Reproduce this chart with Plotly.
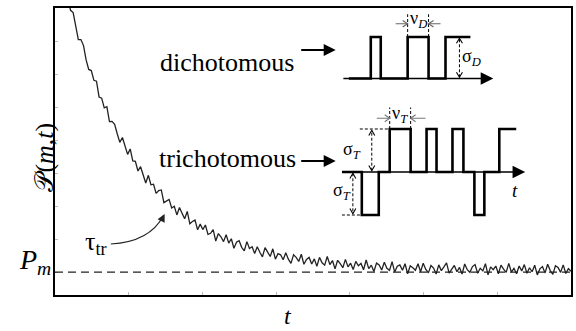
import numpy as np
import plotly.graph_objects as go

# ---------------- data ----------------
# noisy relaxation of P(m,t) towards P_m (main-axis units 0..100)
P_values = [
    123.5, 117.5, 114.9, 109.1, 109.1, 103.3, 99.2, 98.4, 94.1, 89.0,
    89.0, 86.9, 81.9, 78.6, 78.2, 74.8, 74.5, 69.0, 68.6, 65.2,
    65.6, 60.4, 60.5, 59.5, 56.2, 53.2, 54.9, 51.9, 49.0, 50.9,
    46.7, 46.6, 43.2, 44.7, 42.1, 39.0, 41.7, 38.4, 38.6, 35.4,
    36.4, 36.6, 32.2, 32.7, 33.3, 30.3, 30.9, 27.9, 30.5, 28.5,
    26.6, 29.1, 24.8, 25.6, 26.1, 22.7, 24.7, 22.8, 24.4, 21.1,
    21.5, 22.8, 18.8, 21.4, 20.3, 18.6, 21.0, 18.1, 19.6, 16.3,
    18.4, 18.9, 16.6, 15.4, 18.6, 16.2, 16.8, 14.5, 16.8, 14.9,
    13.3, 16.5, 14.7, 13.4, 16.1, 12.5, 14.4, 14.0, 12.3, 14.7,
    12.5, 11.0, 14.0, 13.1, 11.7, 14.2, 10.7, 12.4, 13.1, 10.8,
    12.6, 10.0, 13.1, 11.2, 10.4, 13.4, 10.6, 12.0, 9.1, 12.1,
    10.9, 9.5, 12.4, 9.8, 11.1, 8.9, 11.7, 10.2, 11.0, 8.8,
    12.2, 9.2, 10.4, 8.2, 11.1, 10.5, 8.7, 11.4, 9.3, 8.6,
    11.6, 8.0, 10.0, 10.5, 8.6, 10.9, 7.4, 10.2, 9.5, 8.6,
    10.9, 8.1, 11.1, 8.9, 7.7, 10.3, 9.4, 7.3, 10.5, 8.5,
    9.8, 11.2, 7.6, 9.0, 10.3, 8.1, 9.6, 7.3, 10.8, 8.8,
    7.9, 9.9, 10.6, 7.6, 9.3, 8.4, 10.9, 7.0, 9.8, 8.8,
    10.1, 7.4, 10.4, 9.0, 7.9, 11.0, 8.0, 9.3, 7.4, 10.1,
    8.4, 10.6, 7.6, 9.5, 8.1, 10.4, 7.0, 9.1, 9.9, 7.7,
    10.7, 8.5, 7.2, 10.2, 9.6, 7.9, 10.5, 7.5, 9.2, 8.3,
]
t_main = np.linspace(0, 100, len(P_values))
P_m = 8.0
x_tick_vals = [100 / 7 * k for k in range(1, 7)]
y_tick_vals = [P_m + 11.5 * k for k in range(8)]

# dichotomous noise: switching times and levels (0 / sigma_D = 1)
dich_t = [0.35, 1.45, 1.95, 3.3, 4.35, 5.2, 6.45]
dich_level = [0, 1, 0, 1, 0, 1, 1]
dich_nu = [3.3, 4.35]          # marked dwell interval
# trichotomous noise: switching times and levels (-1 / 0 / +1)
tri_t = [0, 1.0, 1.85, 2.4, 3.45, 4.25, 4.75, 5.55, 6.1, 6.65, 7.15, 7.9, 8.75]
tri_level = [0, -1, 0, 1, 0, 1, 0, 1, 0, -1, 0, 1, 1]
tri_nu = [2.4, 3.45]

SERIF = "Liberation Serif"

fig = go.Figure()
fig.add_trace(go.Scatter(x=t_main, y=P_values, mode="lines",
                         line=dict(color="#222222", width=1.3),
                         xaxis="x", yaxis="y", showlegend=False, hoverinfo="skip"))
fig.add_trace(go.Scatter(x=dich_t, y=dich_level, mode="lines",
                         line=dict(color="black", width=2.6, shape="hv"),
                         xaxis="x2", yaxis="y2", showlegend=False, cliponaxis=False))
fig.add_trace(go.Scatter(x=tri_t, y=tri_level, mode="lines",
                         line=dict(color="black", width=2.6, shape="hv"),
                         xaxis="x3", yaxis="y3", showlegend=False, cliponaxis=False))

shapes = []
annotations = []

# P_m dashed level
shapes.append(dict(type="line", xref="x", yref="y", x0=0, x1=100, y0=P_m, y1=P_m,
                   line=dict(color="#222", width=1.3, dash="8px,5px")))


def chevron(xr, yr, x, y, hw, depth, kind, color="black"):
    if kind == "up":
        p = f"M {x-hw},{y-depth} L {x},{y} L {x+hw},{y-depth}"
    elif kind == "down":
        p = f"M {x-hw},{y+depth} L {x},{y} L {x+hw},{y+depth}"
    elif kind == "right":
        p = f"M {x-depth},{y+hw} L {x},{y} L {x-depth},{y-hw}"
    else:
        p = f"M {x+depth},{y+hw} L {x},{y} L {x+depth},{y-hw}"
    return dict(type="path", xref=xr, yref=yr, path=p, line=dict(color=color, width=1.1))


def dline(xr, yr, x0, y0, x1, y1, color="black", dash="3px,2px", w=1):
    return dict(type="line", xref=xr, yref=yr, x0=x0, y0=y0, x1=x1, y1=y1,
                line=dict(color=color, width=w, dash=dash))


def axis_arrow(xr, yr, x_end):
    return dict(x=x_end, y=0, ax=0, ay=0, xref=xr, yref=yr, axref=xr, ayref=yr,
                showarrow=True, arrowhead=2, arrowsize=1.8, arrowwidth=1.4,
                arrowcolor="black", text="", standoff=0)


def font(size):
    return dict(family=SERIF, size=size, color="black")


# ---- dichotomous inset (x2/y2) ----
annotations.append(axis_arrow("x2", "y2", 7.6))
for xv in dich_nu:
    shapes.append(dline("x2", "y2", xv, 1, xv, 1.55))
shapes.append(dline("x2", "y2", 2.7, 1.32, dich_nu[0], 1.32, color="#666", dash="solid"))
shapes.append(chevron("x2", "y2", dich_nu[0], 1.32, 0.08, 0.25, "right", "#666"))
shapes.append(dline("x2", "y2", 4.95, 1.32, dich_nu[1], 1.32, color="#666", dash="solid"))
shapes.append(chevron("x2", "y2", dich_nu[1], 1.32, 0.08, 0.25, "left", "#666"))
shapes.append(dline("x2", "y2", 5.9, 0.03, 5.9, 0.97))
shapes.append(chevron("x2", "y2", 5.9, 0.97, 0.15, 0.12, "up"))
shapes.append(chevron("x2", "y2", 5.9, 0.03, 0.15, 0.12, "down"))
annotations += [
    dict(x=3.82, y=1.42, xref="x2", yref="y2", text="ν<sub><i>D</i></sub>", showarrow=False,
         font=font(18)),
    dict(x=6.5, y=0.5, xref="x2", yref="y2", text="σ<sub><i>D</i></sub>", showarrow=False,
         font=font(18)),
    dict(x=6.72, y=-0.33, xref="x2", yref="y2", text="<i>t</i>", showarrow=False,
         font=font(19)),
]

# ---- trichotomous inset (x3/y3) ----
annotations.append(axis_arrow("x3", "y3", 9.2))
for xv in tri_nu:
    shapes.append(dline("x3", "y3", xv, 1, xv, 1.5))
shapes.append(dline("x3", "y3", 1.75, 1.25, tri_nu[0], 1.25, color="#777", dash="solid"))
shapes.append(chevron("x3", "y3", tri_nu[0], 1.25, 0.08, 0.25, "right", "#777"))
shapes.append(dline("x3", "y3", 4.2, 1.25, tri_nu[1], 1.25, color="#777", dash="solid"))
shapes.append(chevron("x3", "y3", tri_nu[1], 1.25, 0.08, 0.25, "left", "#777"))
# upper sigma_T
shapes.append(dline("x3", "y3", 0.9, 1, tri_nu[0], 1))
shapes.append(dline("x3", "y3", 1.5, 0.03, 1.5, 0.97))
shapes.append(chevron("x3", "y3", 1.5, 0.97, 0.15, 0.12, "up"))
shapes.append(chevron("x3", "y3", 1.5, 0.03, 0.15, 0.12, "down"))
# lower sigma_T
shapes.append(dline("x3", "y3", 0, -1, 1.0, -1))
shapes.append(dline("x3", "y3", 0.55, -0.03, 0.55, -0.97))
shapes.append(chevron("x3", "y3", 0.55, -0.03, 0.15, 0.12, "up"))
shapes.append(chevron("x3", "y3", 0.55, -0.97, 0.15, 0.12, "down"))
annotations += [
    dict(x=2.93, y=1.33, xref="x3", yref="y3", text="ν<sub><i>T</i></sub>", showarrow=False,
         font=font(18)),
    dict(x=1.05, y=0.5, xref="x3", yref="y3", xanchor="right", text="σ<sub><i>T</i></sub>",
         showarrow=False, font=font(18)),
    dict(x=0.55, y=-0.45, xref="x3", yref="y3", xanchor="right", text="σ<sub><i>T</i></sub>",
         showarrow=False, font=font(18)),
    dict(x=8.7, y=-0.42, xref="x3", yref="y3", text="<i>t</i>", showarrow=False,
         font=font(19)),
]

# ---- labels on the main panel (paper coords) ----
annotations += [
    dict(x=0.334, y=0.868, xref="paper", yref="paper", text="dichotomous", showarrow=False,
         font=font(26)),
    dict(x=0.544, y=0.854, xref="paper", yref="paper", ax=-36, ay=0, text="", showarrow=True,
         arrowhead=2, arrowsize=1.2, arrowwidth=2, arrowcolor="black"),
    dict(x=0.334, y=0.477, xref="paper", yref="paper", text="trichotomous", showarrow=False,
         font=font(26)),
    dict(x=0.544, y=0.467, xref="paper", yref="paper", ax=-36, ay=0, text="", showarrow=True,
         arrowhead=2, arrowsize=1.2, arrowwidth=2, arrowcolor="black"),
    dict(x=-0.052, y=0.481, xref="paper", yref="paper", text="𝒫(<i>m</i>,<i>t</i>)",
         textangle=-90, showarrow=False, font=font(26)),
    dict(x=-0.004, y=0.05, xref="paper", yref="paper", xanchor="right",
         text="<i>P</i><sub><i>m</i></sub>", showarrow=False, font=font(28)),
    dict(x=0.452, y=-0.125, xref="paper", yref="paper", text="<i>t</i>", showarrow=False,
         font=font(24)),
    dict(x=0.055, y=0.12, xref="paper", yref="paper", text="τ<sub>tr</sub>", showarrow=False,
         font=font(26)),
    dict(x=0.2124, y=0.2822, xref="paper", yref="paper", ax=-4, ay=8, text="", showarrow=True,
         arrowhead=2, arrowsize=1.3, arrowwidth=1.2, arrowcolor="#222", standoff=0),
]
shapes.append(dict(type="path", xref="paper", yref="paper",
                   path="M 0.1081,0.1777 Q 0.1834,0.1847 0.2100,0.2760",
                   line=dict(color="#222", width=1.2)))

hidden = dict(visible=False, fixedrange=True)
fig.update_layout(
    width=576, height=331,
    margin=dict(l=55, r=3, t=8, b=36),
    paper_bgcolor="white", plot_bgcolor="white",
    showlegend=False,
    font=dict(family=SERIF),
    xaxis=dict(range=[0, 100], showline=True, linecolor="black", linewidth=1.6, mirror=True,
               showgrid=False, zeroline=False, showticklabels=False,
               ticks="inside", ticklen=3, tickcolor="#bbbbbb", tickvals=x_tick_vals),
    yaxis=dict(range=[0, 100], showline=True, linecolor="black", linewidth=1.6, mirror=True,
               showgrid=False, zeroline=False, showticklabels=False,
               ticks="inside", ticklen=3, tickcolor="#bbbbbb", tickvals=y_tick_vals),
    xaxis2=dict(domain=[0.5560, 0.8649], range=[0, 8], anchor="y2", **hidden),
    yaxis2=dict(domain=[0.7254, 1.0], range=[-0.2, 1.7], anchor="x2", **hidden),
    xaxis3=dict(domain=[0.5560, 0.9421], range=[0, 10], anchor="y3", **hidden),
    yaxis3=dict(domain=[0.2188, 0.6833], range=[-1.4, 1.7], anchor="x3", **hidden),
    shapes=shapes,
    annotations=annotations,
)

fig.write_html("out.html")
